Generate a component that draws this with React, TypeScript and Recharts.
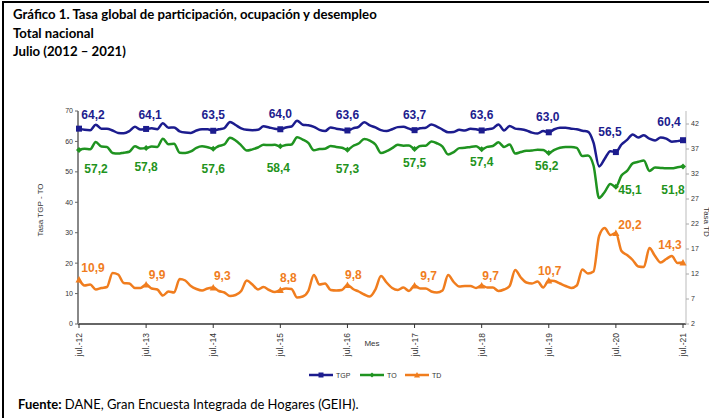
import React from "react";
import { LineChart, Line, XAxis, YAxis } from "recharts";

// Meses (jul.-12 ... jul.-21)
const meses = ["ene.", "feb.", "mar.", "abr.", "may.", "jun.", "jul.", "ago.", "sep.", "oct.", "nov.", "dic."];
const categorias: string[] = [];
for (let k = 0; k < 109; k++) {
  categorias.push(`${meses[(6 + k) % 12]}-${12 + Math.floor((6 + k) / 12)}`);
}

// Tasa global de participación
const tgp = [
  64.2, 63.8, 63.7, 65.5, 64.2, 64.2, 63.6, 62.8, 62.7, 63.4, 64.8, 63.9,
  64.1, 64.3, 64.0, 66.0, 64.5, 64.6, 63.3, 62.9, 62.8, 63.6, 64.0, 64.0,
  63.5, 64.0, 64.4, 66.4, 65.4, 64.3, 63.8, 63.7, 63.8, 65.0, 64.6, 64.2,
  64.0, 64.6, 64.9, 66.8, 65.5, 65.3, 64.8, 63.8, 63.4, 64.6, 64.2, 63.9,
  63.6, 64.3, 64.8, 66.3, 65.3, 64.6, 63.7, 63.4, 64.0, 64.7, 64.8, 64.2,
  63.7, 64.3, 64.5, 65.6, 64.9, 63.9, 63.0, 63.1, 63.8, 63.6, 64.2, 64.0,
  63.6, 64.0, 64.3, 65.6, 63.6, 65.1, 64.2, 64.0, 63.6, 62.9, 62.6, 63.4,
  63.0, 64.0, 64.5, 64.5, 64.2, 64.0, 63.5, 63.2, 59.6, 51.8, 54.3, 56.8,
  56.5, 59.0, 60.5, 62.3, 61.3, 62.0, 60.9, 60.3, 61.3, 60.9, 59.9, 60.1,
  60.4,
];

// Tasa de ocupación
const to = [
  57.2, 57.6, 57.4, 59.8, 58.3, 58.2, 56.2, 56.0, 56.3, 56.6, 58.4, 57.7,
  57.8, 58.3, 58.2, 60.9, 59.1, 59.2, 56.3, 56.2, 56.7, 57.9, 58.4, 58.1,
  57.6, 58.5, 59.0, 61.2, 60.3, 58.7, 57.0, 57.4, 58.0, 58.9, 58.8, 58.9,
  58.4, 58.8, 59.0, 61.4, 60.6, 59.5, 57.1, 57.5, 57.6, 58.5, 58.2, 57.9,
  57.3, 58.5, 59.3, 60.8, 60.3, 59.0, 56.2, 56.8, 57.8, 58.9, 58.6, 58.7,
  57.5, 58.5, 58.6, 60.0, 59.4, 58.3, 55.7, 56.5, 57.8, 57.9, 58.2, 58.4,
  57.4, 58.2, 58.5, 59.7, 58.2, 59.0, 56.0, 56.5, 56.9, 57.0, 57.3, 57.2,
  56.2, 57.2, 57.9, 58.2, 58.2, 57.9, 55.2, 55.4, 52.1, 41.4, 43.4, 46.0,
  45.1, 48.8, 50.3, 52.8, 53.3, 53.7, 50.3, 51.4, 51.3, 51.2, 51.2, 51.5,
  51.8,
];

// Tasa de desempleo (eje derecho)
const td = [
  10.9, 9.7, 9.9, 8.9, 9.2, 9.4, 12.2, 11.9, 10.2, 10.1, 9.2, 9.2,
  9.9, 9.1, 8.9, 7.7, 8.5, 8.3, 11.0, 10.7, 9.6, 9.0, 8.7, 9.1,
  9.3, 8.6, 8.3, 7.6, 7.8, 8.6, 10.7, 9.9, 8.9, 9.4, 8.8, 8.4,
  8.8, 9.1, 9.0, 7.3, 7.5, 8.6, 11.8, 9.9, 10.1, 8.8, 8.7, 8.8,
  9.8, 9.0, 8.5, 7.9, 7.5, 8.9, 11.6, 10.3, 9.2, 8.8, 9.3, 8.6,
  9.7, 9.1, 9.1, 8.5, 8.3, 8.7, 11.8, 10.4, 9.5, 9.6, 9.6, 9.2,
  9.7, 9.3, 9.3, 8.6, 8.9, 9.6, 12.8, 11.3, 10.3, 10.1, 10.5, 9.3,
  10.7, 10.6, 10.1, 9.6, 9.2, 9.7, 12.9, 12.1, 12.5, 19.6, 21.2, 19.8,
  20.2, 16.6, 15.8, 14.8, 13.5, 13.4, 17.2, 15.6, 14.3, 15.0, 15.6, 14.2,
  14.3,
];

const ticksIzq = [0, 10, 20, 30, 40, 50, 60, 70];
const ticksDer = [2, 7, 12, 17, 22, 27, 32, 37, 42];

const data = categorias.map((mes, i) => ({ mes, tgp: tgp[i], to: to[i], td: td[i] }));

const COL = { tgp: "#1c1c8e", to: "#1f9320", td: "#f07d1e" };
const FONT = "Liberation Sans, Arial, sans-serif";

// desplazamiento de etiquetas (centro del texto respecto al punto), una por julio
const offTgp = [[14, -14], [4, -14], [0, -16], [0, -15], [0, -15], [0, -15], [0, -15], [-1, -15], [-6, -20], [-14, -18]];
const offTo = [[17, 19], [0, 19], [0, 20], [-2, 22], [0, 19], [0, 14], [0, 13], [-2, 13], [14, 3], [-10, 24]];
const offTd = [[14, -12], [11, -10], [9, -12], [8, -12], [6, -10], [14, -10], [9, -10], [1, -10], [14, -8], [-13, -18]];

const fmt = (v: number) => v.toFixed(1).replace(".", ",");

function makeDot(kind: "tgp" | "to" | "td", offs: number[][]) {
  return (p: any) => {
    const { cx, cy, index, value } = p;
    if (index % 12 !== 0 || cx == null) return <g key={`${kind}-${index}`} />;
    const o = offs[index / 12];
    const c = COL[kind];
    let mark;
    if (kind === "tgp") mark = <rect x={cx - 3} y={cy - 3} width={6} height={6} fill={c} />;
    else if (kind === "to") mark = <path d={`M${cx - 3},${cy} L${cx},${cy - 3} L${cx + 3},${cy} L${cx},${cy + 3} Z`} fill={c} />;
    else mark = <path d={`M${cx - 3.5},${cy + 3} L${cx},${cy - 3.5} L${cx + 3.5},${cy + 3} Z`} fill={c} />;
    return (
      <g key={`${kind}-${index}`}>
        {mark}
        <text x={cx + o[0]} y={cy + o[1]} textAnchor="middle" dominantBaseline="central" fontFamily={FONT} fontWeight="bold" fontSize={12} fill={c}>
          {fmt(Array.isArray(value) ? value[1] : value)}
        </text>
      </g>
    );
  };
}

const XTick = (p: any) => {
  const { x, y, payload } = p;
  const yy = y + 3;
  return (
    <text x={x} y={yy} transform={`rotate(-90 ${x} ${yy})`} textAnchor="end" dominantBaseline="central" fontFamily={FONT} fontSize={8.5} fill="#333">
      {payload.value}
    </text>
  );
};

function LegendIcon({ x, kind }: { x: number; kind: "tgp" | "to" | "td" }) {
  const c = COL[kind];
  const cy = 375;
  const cx = x + 12;
  let mark;
  if (kind === "tgp") mark = <rect x={cx - 2.5} y={cy - 2.5} width={5} height={5} fill={c} />;
  else if (kind === "to") mark = <path d={`M${cx - 2.5},${cy} L${cx},${cy - 2.5} L${cx + 2.5},${cy} L${cx},${cy + 2.5} Z`} fill={c} />;
  else mark = <path d={`M${cx - 3},${cy + 2.5} L${cx},${cy - 3} L${cx + 3},${cy + 2.5} Z`} fill={c} />;
  return (
    <g>
      <line x1={x} x2={x + 24} y1={cy} y2={cy} stroke={c} strokeWidth={2.5} />
      {mark}
    </g>
  );
}

export default function App() {
  return (
    <div style={{ position: "absolute", left: 0, top: 0, width: 709, height: 418, background: "#fff", overflow: "hidden" }}>
      <div style={{ position: "absolute", left: 2, top: 1, width: 720, height: 430, borderLeft: "2px solid #000", borderTop: "2px solid #000" }} />
      <div style={{ position: "absolute", left: 13, top: 5, fontFamily: "Lato, sans-serif", fontWeight: 700, fontSize: 13.2, lineHeight: "18.5px", color: "#000" }}>
        <div>Gráfico 1. Tasa global de participación, ocupación y desempleo</div>
        <div>Total nacional</div>
        <div>Julio (2012 – 2021)</div>
      </div>
      <div style={{ position: "absolute", left: 0, top: 0 }}>
        <LineChart width={709} height={418} data={data} margin={{ top: 111, right: 0, bottom: 0, left: 0 }}>
          <XAxis
            dataKey="mes"
            interval={11}
            height={94}
            tick={<XTick />}
            tickSize={4}
            tickLine={{ stroke: "#333" }}
            axisLine={{ stroke: "#333", strokeWidth: 1.5 }}
            padding={{ left: 1, right: 3 }}
          />
          <YAxis
            yAxisId="left"
            width={78}
            domain={[0, 70]}
            ticks={ticksIzq}
            tickSize={3}
            tick={{ fontSize: 7, fill: "#333", fontFamily: FONT }}
            tickLine={{ stroke: "#666" }}
            axisLine={{ stroke: "#888", strokeWidth: 2 }}
          />
          <YAxis
            yAxisId="right"
            orientation="right"
            width={23}
            domain={[2, 44.6]}
            ticks={ticksDer}
            tickSize={3}
            tick={{ fontSize: 7, fill: "#333", fontFamily: FONT }}
            tickLine={{ stroke: "#aaa" }}
            axisLine={{ stroke: "#bbb", strokeWidth: 1 }}
          />
          <Line yAxisId="left" dataKey="tgp" type="monotone" stroke={COL.tgp} strokeWidth={2.5} dot={makeDot("tgp", offTgp)} activeDot={false} isAnimationActive={false} />
          <Line yAxisId="left" dataKey="to" type="monotone" stroke={COL.to} strokeWidth={2.5} dot={makeDot("to", offTo)} activeDot={false} isAnimationActive={false} />
          <Line yAxisId="right" dataKey="td" type="monotone" stroke={COL.td} strokeWidth={2.5} dot={makeDot("td", offTd)} activeDot={false} isAnimationActive={false} />
        </LineChart>
      </div>
      <svg width={709} height={418} style={{ position: "absolute", left: 0, top: 0, pointerEvents: "none" }}>
        <text x={40} y={210} transform="rotate(-90 40 210)" textAnchor="middle" dominantBaseline="central" fontFamily={FONT} fontSize={8} fill="#333">
          Tasa TGP - TO
        </text>
        <text x={706} y={222} transform="rotate(90 706 222)" textAnchor="middle" dominantBaseline="central" fontFamily={FONT} fontSize={8} fill="#333">
          Tasa TD
        </text>
        <text x={372} y={343} textAnchor="middle" dominantBaseline="central" fontFamily={FONT} fontSize={8} fill="#333">
          Mes
        </text>
        <LegendIcon x={309} kind="tgp" />
        <text x={336} y={375} dominantBaseline="central" fontFamily={FONT} fontSize={7} fill="#333">TGP</text>
        <LegendIcon x={360} kind="to" />
        <text x={387} y={375} dominantBaseline="central" fontFamily={FONT} fontSize={7} fill="#333">TO</text>
        <LegendIcon x={405} kind="td" />
        <text x={432} y={375} dominantBaseline="central" fontFamily={FONT} fontSize={7} fill="#333">TD</text>
      </svg>
      <div style={{ position: "absolute", left: 18, top: 396, fontFamily: "Lato, sans-serif", fontSize: 13, color: "#000" }}>
        <b>Fuente:</b> DANE, Gran Encuesta Integrada de Hogares (GEIH).
      </div>
    </div>
  );
}
